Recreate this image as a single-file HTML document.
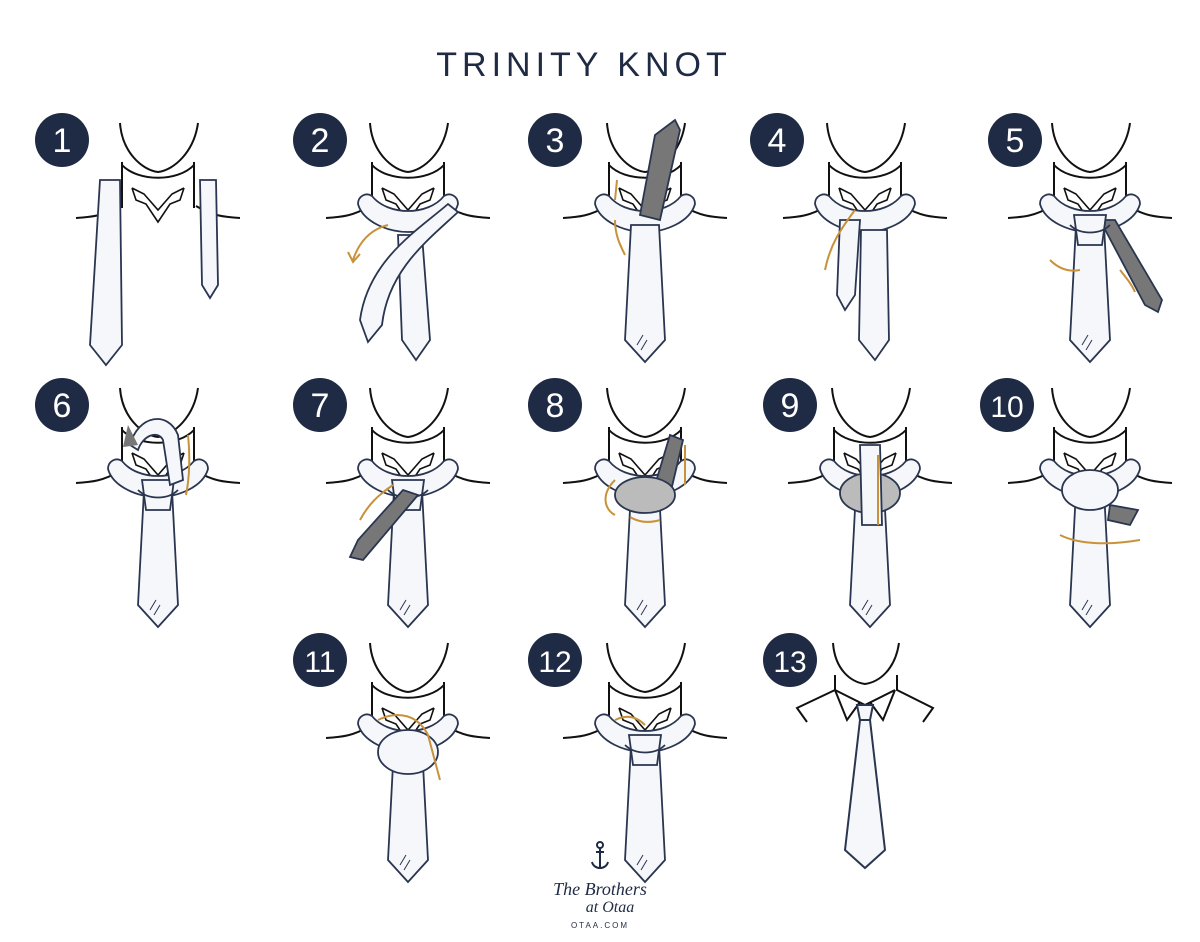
<!DOCTYPE html>
<html><head><meta charset="utf-8"><style>
html,body{margin:0;padding:0;background:#fff;}
svg{display:block}
.num{font-family:"Liberation Sans",sans-serif;font-size:34px;fill:#fff;text-anchor:middle;font-weight:300}
</style></head><body>
<svg width="1200" height="942" viewBox="0 0 1200 942" xmlns="http://www.w3.org/2000/svg">
<defs>
<g id="neck" fill="none" stroke="#111" stroke-width="2">
  <path d="M-38,3 C-36,32 -16,50 0,52 C16,50 36,32 40,3"/>
  <path d="M-36,42 L-36,88 M36,42 L36,88"/>
  <path d="M-36,45 C-20,62 20,62 36,45"/>
  <path d="M-26,68 L-22,80 L-12,84 L0,102 L12,84 L22,80 L26,68 M-26,68 L-14,74 L0,90 L14,74 L26,68" stroke-width="1.6"/>
  <path d="M-38,86 C-55,96 -66,97 -82,98 M38,86 C55,96 66,97 82,98"/>
</g>
<g id="loop" fill="#f6f7fa" stroke="#2a3550" stroke-width="1.8">
  <path d="M-50,84 C-50,76 -42,72 -36,76 C-20,96 20,96 36,76 C42,72 50,76 50,84 C45,102 20,112 0,112 C-20,112 -45,102 -50,84 Z"/>
</g>
<g id="tie" fill="#f6f7fa" stroke="#2a3550" stroke-width="1.8">
  <path d="M-14,105 L14,105 L20,220 L0,242 L-20,220 Z"/>
  <path d="M-8,225 L-2,215 M-4,230 L2,220" stroke-width="1"/>
</g>
<g id="knot" fill="#f6f7fa" stroke="#2a3550" stroke-width="1.8">
  <path d="M-16,95 L16,95 L12,125 L-12,125 Z"/>
  <path d="M-20,105 C-10,115 10,115 20,105" fill="none"/>
</g>
</defs>

<text x="584" y="76" text-anchor="middle" font-family="Liberation Sans,sans-serif" font-size="34" fill="#1f2a44" letter-spacing="5">TRINITY KNOT</text>

<g fill="#1f2a44">
<circle cx="62" cy="140" r="27"/><circle cx="320" cy="140" r="27"/><circle cx="555" cy="140" r="27"/><circle cx="777" cy="140" r="27"/><circle cx="1015" cy="140" r="27"/>
<circle cx="62" cy="405" r="27"/><circle cx="320" cy="405" r="27"/><circle cx="555" cy="405" r="27"/><circle cx="790" cy="405" r="27"/><circle cx="1007" cy="405" r="27"/>
<circle cx="320" cy="660" r="27"/><circle cx="555" cy="660" r="27"/><circle cx="790" cy="660" r="27"/>
</g>
<g class="num">
<text x="62" y="152">1</text><text x="320" y="152">2</text><text x="555" y="152">3</text><text x="777" y="152">4</text><text x="1015" y="152">5</text>
<text x="62" y="417">6</text><text x="320" y="417">7</text><text x="555" y="417">8</text><text x="790" y="417">9</text><text x="1007" y="417" font-size="30">10</text>
<text x="320" y="672" font-size="30">11</text><text x="555" y="672" font-size="30">12</text><text x="790" y="672" font-size="30">13</text>
</g>

<g transform="translate(158,120)">
<use href="#neck"/>
<g fill="#f6f7fa" stroke="#2a3550" stroke-width="1.8">
<path d="M-58,60 L-38,60 L-36,225 L-52,245 L-68,225 Z"/>
<path d="M42,60 L58,60 L60,165 L52,178 L44,165 Z"/>
</g></g>

<g transform="translate(408,120)">
<use href="#neck"/><use href="#loop"/>
<g fill="#f6f7fa" stroke="#2a3550" stroke-width="1.8">
<path d="M-10,115 L14,115 L22,220 L8,240 L-6,220 Z"/>
<path d="M40,84 C10,110 -40,140 -48,200 L-40,222 L-26,205 C-20,150 20,120 50,92 Z"/>
</g>
<path d="M-20,105 C-40,110 -50,125 -55,140" stroke="#c8923a" stroke-width="2" fill="none"/>
<path d="M-60,132 L-55,142 L-48,134" stroke="#c8923a" stroke-width="2" fill="none"/>
</g>

<g transform="translate(645,120)">
<use href="#neck"/><use href="#loop"/><use href="#tie"/>
<path d="M-5,95 L10,15 L30,0 L35,10 L15,100 Z" fill="#777" stroke="#2a3550" stroke-width="1.8"/>
<path d="M-30,80 L-28,60 M-30,100 C-30,115 -25,125 -20,135" stroke="#c8923a" stroke-width="2" fill="none"/>
</g>

<g transform="translate(865,120)">
<use href="#neck"/><use href="#loop"/>
<g fill="#f6f7fa" stroke="#2a3550" stroke-width="1.8">
<path d="M-4,110 L22,110 L24,220 L10,240 L-6,220 Z"/>
<path d="M-25,100 L-5,100 L-10,175 L-20,190 L-28,175 Z"/>
</g>
<path d="M-10,90 C-25,110 -35,125 -40,150" stroke="#c8923a" stroke-width="2" fill="none"/>
</g>

<g transform="translate(1090,120)">
<use href="#neck"/><use href="#loop"/><use href="#tie"/>
<path d="M10,100 L25,100 L72,180 L68,192 L55,185 Z" fill="#777" stroke="#2a3550" stroke-width="1.8"/>
<use href="#knot"/>
<path d="M-40,140 C-30,150 -20,152 -10,150 M30,150 C38,160 42,165 45,172" stroke="#c8923a" stroke-width="2" fill="none"/>
</g>

<g transform="translate(158,385)">
<use href="#neck"/><use href="#loop"/><use href="#tie"/><use href="#knot"/>
<path d="M-28,60 C-20,30 10,25 20,50 L25,95 L12,100 L5,55 C0,45 -15,50 -20,65 Z" fill="#f6f7fa" stroke="#2a3550" stroke-width="1.8"/>
<path d="M-30,40 L-20,60 L-35,62 Z" fill="#777"/>
<path d="M28,110 C32,90 32,70 30,50" stroke="#c8923a" stroke-width="2" fill="none"/>
</g>

<g transform="translate(408,385)">
<use href="#neck"/><use href="#loop"/><use href="#tie"/><use href="#knot"/>
<path d="M-5,105 L10,110 L-45,175 L-58,172 L-50,155 Z" fill="#777" stroke="#2a3550" stroke-width="1.8"/>
<path d="M-15,100 C-30,110 -40,120 -48,135" stroke="#c8923a" stroke-width="2" fill="none"/>
</g>

<g transform="translate(645,385)">
<use href="#neck"/><use href="#loop"/><use href="#tie"/>
<path d="M10,100 L25,50 L38,55 L25,110 Z" fill="#777" stroke="#2a3550" stroke-width="1.8"/>
<ellipse cx="0" cy="110" rx="30" ry="18" fill="#bbb" stroke="#2a3550" stroke-width="1.8"/>
<path d="M-30,95 C-45,110 -40,125 -30,130 M-15,132 C-5,138 5,138 15,135 M40,100 L40,60" stroke="#c8923a" stroke-width="2" fill="none"/>
</g>

<g transform="translate(870,385)">
<use href="#neck"/><use href="#loop"/><use href="#tie"/>
<ellipse cx="0" cy="108" rx="30" ry="20" fill="#bbb" stroke="#2a3550" stroke-width="1.8"/>
<path d="M-10,60 L10,60 L12,140 L-8,140 Z" fill="#f6f7fa" stroke="#2a3550" stroke-width="1.8"/>
<path d="M8,70 L8,140" stroke="#c8923a" stroke-width="2" fill="none"/>
</g>

<g transform="translate(1090,385)">
<use href="#neck"/><use href="#loop"/><use href="#tie"/>
<ellipse cx="0" cy="105" rx="28" ry="20" fill="#f6f7fa" stroke="#2a3550" stroke-width="1.8"/>
<path d="M20,120 L48,125 L40,140 L18,135 Z" fill="#777" stroke="#2a3550" stroke-width="1.8"/>
<path d="M-30,150 C-10,160 20,160 50,155" stroke="#c8923a" stroke-width="2" fill="none"/>
</g>

<g transform="translate(408,640)">
<use href="#neck"/><use href="#loop"/><use href="#tie"/>
<ellipse cx="0" cy="112" rx="30" ry="22" fill="#f6f7fa" stroke="#2a3550" stroke-width="1.8"/>
<path d="M-30,80 C-10,70 10,75 20,95 L32,140" stroke="#c8923a" stroke-width="2" fill="none"/>
</g>

<g transform="translate(645,640)">
<use href="#neck"/><use href="#loop"/><use href="#tie"/><use href="#knot"/>
<path d="M0,85 C-10,75 -20,75 -30,80" stroke="#c8923a" stroke-width="2" fill="none"/>
</g>

<g transform="translate(865,640)" fill="none" stroke="#111" stroke-width="2">
<path d="M-32,3 C-30,30 -14,42 0,44 C14,42 30,30 34,3"/>
<path d="M-30,35 L-30,50 L-68,68 L-58,82 M32,35 L32,50 L68,68 L58,82"/>
<path d="M-30,50 L0,65 L30,50"/>
<path d="M-30,50 L-18,80 L-5,62 M30,50 L18,80 L5,62"/>
<path d="M-8,65 L8,65 L5,80 L-5,80 Z" fill="#f6f7fa" stroke="#2a3550"/>
<path d="M-5,80 L5,80 L20,210 L0,228 L-20,210 Z" fill="#f6f7fa" stroke="#2a3550"/>
</g>

<g fill="none" stroke="#1f2a44" stroke-width="2">
<path d="M600,848 L600,868 M592,862 C594,870 606,870 608,862 M596,852 L604,852"/>
<circle cx="600" cy="845" r="3"/>
</g>
<text x="600" y="895" text-anchor="middle" font-family="Liberation Serif,serif" font-style="italic" font-size="18" fill="#1f2a44">The Brothers</text>
<text x="610" y="912" text-anchor="middle" font-family="Liberation Serif,serif" font-style="italic" font-size="16" fill="#1f2a44">at Otaa</text>
<text x="600" y="928" text-anchor="middle" font-family="Liberation Sans,sans-serif" font-size="8" letter-spacing="2" fill="#1f2a44">OTAA.COM</text>
</svg>
</body></html>
